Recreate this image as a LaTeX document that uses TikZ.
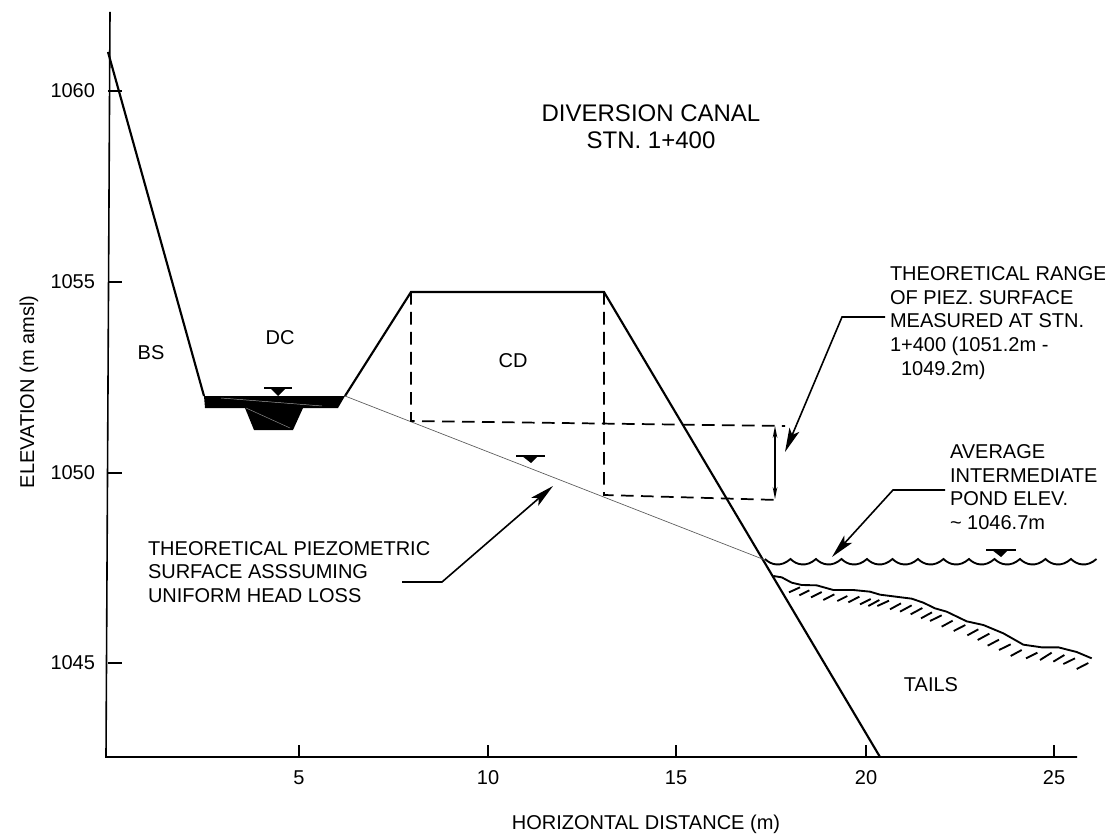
\documentclass[tikz,border=0pt]{standalone}
\usepackage{fontspec}
\setmainfont{Liberation Sans}
\usetikzlibrary{arrows.meta}
\tikzset{
  every node/.style={inner sep=0pt,outer sep=0pt},
  lab/.style={font=\fontsize{15pt}{17.7pt}\selectfont,align=left,anchor=west,text=black},
  big/.style={font=\fontsize{18pt}{20.6pt}\selectfont,align=center},
  ax/.style={line width=1.2pt},
  ground/.style={line width=1.6pt,line join=miter},
  dashline/.style={line width=1.3pt,dash pattern=on 9.5pt off 5.5pt},
  leader/.style={line width=1.2pt,-{Stealth[length=18pt,width=8pt,inset=4pt]}},
  marker/.style={fill=black,draw=none},
  mline/.style={line width=1.4pt}
}
\begin{document}
\begin{tikzpicture}[x=0.75pt,y=-0.75pt]
\useasboundingbox (0,0) rectangle (1105,837);
% axes
\coordinate (origin) at (106,757);
\draw[ax] (110,12) -- (origin) -- (1077,757);
\foreach \y/\t in {91/1060,282/1055,473/1050,663/1045}{
  \draw[ax] (108,\y) -- (122,\y);
  \node[lab,anchor=east] (y\t) at (95,\y) {\t};
}
\foreach \x/\t in {299/5,488/10,676/15,866/20,1054/25}{
  \draw[ax] (\x,757) -- (\x,745);
  \node[lab,anchor=center] (x\t) at (\x,778) {\t};
}
\node[lab,anchor=center,rotate=90] (ylabel) at (29,392) {ELEVATION (m amsl)};
\node[lab,anchor=center] (xlabel) at (646,824) {HORIZONTAL DISTANCE (m)};
\node[big] (title) at (651,127) {DIVERSION CANAL\\STN. 1+400};
% ground profile
\draw[ground] (108,52) -- (204,396);
\draw[ground] (345,396) -- (411,292) -- (604,292) -- (880,757);
% canal water
\fill[black] (204,396) -- (345,396) -- (338,408) -- (205,408) -- cycle;
\fill[black] (245,408) -- (303,408) -- (293,430) -- (254,430) -- cycle;
\draw[white!65!black,line width=0.35pt] (221,398) -- (322,406);
\draw[white!55!black,line width=0.35pt] (246,408) -- (290,428);
\draw[mline] (264,388) -- (292,388);
\fill[marker] (270,388) -- (286,388) -- (278,396) -- cycle;
% piezometric line
\draw[black!65,line width=0.5pt] (345,396) -- (765,560);
\draw[mline] (516,456) -- (545,456);
\fill[marker] (522,456) -- (538,456) -- (531,463) -- cycle;
% dashed range
\draw[dashline] (411,292) -- (411,421) -- (785,426);
\draw[dashline] (604,292) -- (604,495) -- (778,500);
\draw[line width=1pt,{Stealth[length=9pt,width=3.5pt]}-{Stealth[length=9pt,width=3.5pt]}] (775,426) -- (775,499);
% pond
\draw[line width=1.4pt] (765,559)
  \foreach \i in {0,...,12}{ .. controls ({765+\i*25.5+6},{565}) and ({765+\i*25.5+16},{567.5}) .. ({765+\i*25.5+25.5},559) };
\draw[mline] (986,550) -- (1016,550);
\fill[marker] (992,550) -- (1008,550) -- (1001,557) -- cycle;
% tails surface & hatching, in 3x crop coordinates
\begin{scope}[shift={(740,530)},x=0.25pt,y=-0.25pt]
\draw[line width=1.4pt,line join=round] (100,138)--(125,142)--(155,158)--(185,165)--(230,166)--(280,180)--(340,180)--(390,185)--(420,194)--(515,206)--(550,218)--(585,235)--(620,245)--(680,274)--(730,285)--(790,310)--(850,344)--(905,352)--(955,352)--(1010,366)--(1055,385);
\foreach \a/\b/\c/\d in {147/187/180/172,178/196/208/181,213/202/245/186,250/210/283/193,292/213/322/198,325/217/358/200,360/223/392/207,385/228/418/210,412/228/447/212,450/238/483/220,480/245/515/226,512/253/547/234,543/265/576/247,570/273/605/256,605/290/638/272,641/303/676/285,682/316/715/298,713/330/748/311,743/347/777/329,777/360/812/343,812/378/845/360,858/385/892/368,900/390/935/368,940/395/973/375,970/402/1005/385,1010/417/1045/399}
  \draw[line width=1.4pt] (\a,\b) -- (\c,\d);
\end{scope}
% labels
\node[lab,anchor=center] (bs) at (151,353) {BS};
\node[lab,anchor=center] (dc) at (280,338) {DC};
\node[lab,anchor=center] (cd) at (513,361) {CD};
\node[lab,anchor=center] (tails) at (931,685) {TAILS};
\node[lab] (range) at (890,323) {THEORETICAL RANGE\\OF PIEZ. SURFACE\\MEASURED AT STN.\\1+400 (1051.2m -\\\ \ 1049.2m)};
\node[lab] (pond) at (950,487) {AVERAGE\\INTERMEDIATE\\POND ELEV.\\\textasciitilde{} 1046.7m};
\node[lab] (piez) at (148,572) {THEORETICAL PIEZOMETRIC\\SURFACE ASSSUMING\\UNIFORM HEAD LOSS};
% leaders
\coordinate (tipR) at (785,452);
\coordinate (tipP) at (832,557);
\coordinate (tipT) at (553,486);
\draw[leader] (885,317) -- (842,317) -- (tipR);
\draw[leader] (945,490) -- (893,490) -- (tipP);
\draw[leader] (402,582) -- (442,582) -- (tipT);
\end{tikzpicture}
\end{document}
